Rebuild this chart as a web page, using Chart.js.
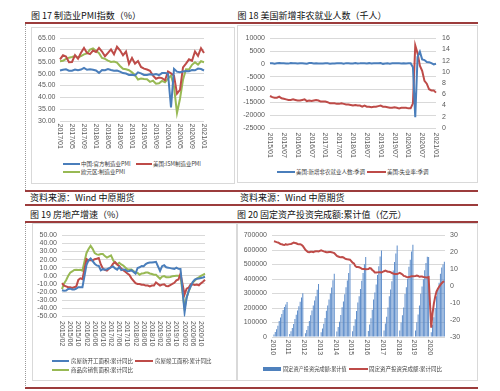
<!DOCTYPE html>
<html><head><meta charset="utf-8">
<script src="https://cdn.jsdelivr.net/npm/chart.js@4.4.1/dist/chart.umd.min.js"></script>
<style>
html,body{margin:0;padding:0;background:#fff;}
#page{position:relative;width:500px;height:391px;overflow:hidden;font-family:"Noto Sans CJK SC","Noto Sans",sans-serif;}
.title{position:absolute;font-size:9px;line-height:9px;color:#111;white-space:nowrap;font-weight:normal;}
.rule{position:absolute;left:25px;width:453px;height:2px;background:#9c3c3c;}
.frame{position:absolute;border:1px solid #d9d9d9;box-sizing:border-box;}
.dots{position:absolute;left:25px;width:0;border-left:1px dotted #9a9a9a;}
.lg{position:absolute;font-size:5.5px;line-height:6px;color:#404040;white-space:nowrap;}
.sw{position:absolute;height:2px;}
canvas{position:absolute;}
</style></head>
<body><div id="page">
<div class="title" style="left:31px;top:10.5px;">图 17 制造业PMI指数（%）</div>
<div class="title" style="left:237.5px;top:10.5px;">图 18 美国新增非农就业人数（千人）</div>
<div class="rule" style="top:22px;"></div>
<div class="dots" style="top:24px;height:166px;"></div>
<div class="frame" style="left:31px;top:26.5px;width:204px;height:157px;"></div>
<div class="frame" style="left:237px;top:25px;width:241px;height:158px;"></div>
<div class="rule" style="top:190px;height:1.5px;"></div>
<div class="title" style="left:30px;top:192.5px;">资料来源：Wind 中原期货</div>
<div class="title" style="left:240px;top:192.5px;">资料来源：Wind 中原期货</div>
<div class="rule" style="top:204px;"></div>
<div class="title" style="left:30px;top:209.5px;">图 19 房地产增速（%）</div>
<div class="title" style="left:237px;top:209.5px;">图 20 固定资产投资完成额:累计值（亿元）</div>
<div class="rule" style="top:221px;"></div>
<div class="dots" style="top:223px;height:165px;"></div>
<div class="frame" style="left:31.5px;top:223px;width:205px;height:158px;"></div>
<div class="frame" style="left:237px;top:223px;width:241px;height:158px;"></div>
<div class="rule" style="top:387px;"></div>

<canvas id="c1" width="203" height="128" style="left:31px;top:28px;"></canvas>
<canvas id="c2" width="238" height="131" style="left:239px;top:28px;"></canvas>
<canvas id="c3" width="204" height="126" style="left:32px;top:226px;"></canvas>
<canvas id="c4" width="238" height="132" style="left:239px;top:226px;"></canvas>

<div class="sw" style="left:63px;top:163px;width:17px;background:#4a7ebb;"></div>
<div class="lg" style="left:81px;top:161px;">中国:官方制造业PMI</div>
<div class="sw" style="left:136px;top:163px;width:16px;background:#be4b48;"></div>
<div class="lg" style="left:153px;top:161px;">美国:ISM制造业PMI</div>
<div class="sw" style="left:63px;top:171px;width:17px;background:#98b954;"></div>
<div class="lg" style="left:81px;top:169px;">欧元区:制造业PMI</div>

<div class="sw" style="left:276.5px;top:171px;width:18.5px;background:#4a7ebb;"></div>
<div class="lg" style="left:296px;top:169px;">美国:新增非农就业人数:季调</div>
<div class="sw" style="left:367px;top:171px;width:18.5px;background:#be4b48;"></div>
<div class="lg" style="left:387px;top:169px;">美国:失业率:季调</div>

<div class="sw" style="left:52px;top:360px;width:17px;background:#4a7ebb;"></div>
<div class="lg" style="left:71px;top:358px;">房屋新开工面积:累计同比</div>
<div class="sw" style="left:135px;top:360px;width:18px;background:#be4b48;"></div>
<div class="lg" style="left:155px;top:358px;">房屋竣工面积:累计同比</div>
<div class="sw" style="left:52px;top:368.5px;width:17px;background:#98b954;"></div>
<div class="lg" style="left:71px;top:366.5px;">商品房销售面积:累计同比</div>

<div class="sw" style="left:263px;top:367px;width:18px;height:4px;background:#4f81bd;"></div>
<div class="lg" style="left:283px;top:366px;font-size:5.2px;">固定资产投资完成额:累计值</div>
<div class="sw" style="left:349px;top:368px;width:19px;background:#be4b48;"></div>
<div class="lg" style="left:369px;top:366px;">固定资产投资完成额:累计同比</div>
</div>
<script>
// ---------- categories ----------
function buildMonths(y, m, n) {
  const out = [];
  for (let i = 0; i < n; i++) {
    out.push(y + '/' + String(m).padStart(2, '0'));
    m++; if (m > 12) { m = 1; y++; }
  }
  return out;
}
const pmiMonths = buildMonths(2017, 1, 49);
const nfpMonths = buildMonths(2015, 1, 73);
const reMonths = buildMonths(2015, 2, 71);
const faiMonths = buildMonths(2010, 1, 132);

// ---------- tick labels ----------
const pmiTickLabels = ['2017/01','2017/05','2017/09','2018/01','2018/05','2018/09','2019/01','2019/05','2019/09','2020/01','2020/05','2020/09','2021/01'];
const nfpTickLabels = ['2015/01','2015/07','2016/01','2016/07','2017/01','2017/07','2018/01','2018/07','2019/01','2019/07','2020/01','2020/07','2021/01'];
const reTickLabels = ['2015/02','2015/06','2015/10','2016/02','2016/06','2016/10','2017/02','2017/06','2017/10','2018/02','2018/06','2018/10','2019/02','2019/06','2019/10','2020/02','2020/06','2020/10'];
const faiTickLabels = ['2010','2011','2012','2013','2014','2015','2016','2017','2018','2019','2020'];

// ---------- 图17 PMI ----------
const chinaPMI = [
  51.3,51.6,51.8,51.2,51.2,51.7,51.4,51.7,52.4,51.6,51.8,51.6,
  51.3,50.3,51.5,51.4,51.9,51.5,51.2,51.3,50.8,50.2,50.0,49.4,
  49.5,49.2,50.5,50.1,49.4,49.4,49.7,49.5,49.8,49.3,50.2,50.2,
  50.0,35.7,52.0,50.8,50.6,50.9,51.1,51.0,51.5,51.4,52.1,51.9,
  51.3];
const ismPMI = [
  56.0,57.7,57.2,54.8,54.9,57.8,56.3,58.8,60.8,58.7,58.2,59.7,
  59.1,60.8,59.3,57.3,58.7,60.2,58.1,61.3,59.8,57.7,59.3,54.1,
  56.6,54.2,55.3,52.8,52.1,51.7,51.2,49.1,47.8,48.3,48.1,47.2,
  50.9,50.1,49.1,41.5,43.1,52.6,54.2,56.0,55.4,59.3,57.5,60.7,
  58.7];
const euroPMI = [
  55.2,55.4,56.2,56.7,57.0,57.4,56.6,57.4,58.1,58.5,60.1,60.6,
  59.6,58.6,56.6,56.2,55.5,54.9,55.1,54.6,53.2,52.0,51.8,51.4,
  50.5,49.3,47.5,47.9,47.7,47.6,46.5,47.0,45.7,45.9,46.9,46.3,
  47.9,49.2,44.5,33.4,39.4,47.4,51.8,51.7,53.7,54.8,53.8,55.2,
  54.8];

// ---------- 图18 非农 / 失业率 ----------
const nfpChange = [
  190,271,70,251,344,206,254,157,100,321,252,239,
  126,237,225,153,43,297,365,167,240,124,178,155,
  259,195,73,175,155,239,190,221,18,271,216,175,
  176,324,182,196,270,235,173,282,108,277,196,227,
  312,1,147,210,85,194,194,207,208,185,261,184,
  214,251,-1373,-20787,2725,4781,1761,1493,711,654,264,-227,
  49];
const unemployment = [
  5.7,5.5,5.4,5.4,5.6,5.3,5.2,5.1,5.0,5.0,5.1,5.0,
  4.9,4.9,5.0,5.1,4.8,4.9,4.8,4.9,5.0,4.9,4.7,4.7,
  4.7,4.6,4.4,4.4,4.4,4.3,4.3,4.4,4.3,4.2,4.2,4.1,
  4.0,4.1,4.0,4.0,3.8,4.0,3.8,3.8,3.7,3.8,3.8,3.9,
  4.0,3.8,3.8,3.7,3.6,3.6,3.7,3.6,3.5,3.6,3.6,3.6,
  3.5,3.5,4.4,14.7,13.3,11.1,10.2,8.4,7.9,6.9,6.7,6.7,
  6.3];

// ---------- 图19 房地产 ----------
const reStarts = [
  -17.7,-18.4,-18.0,-16.1,-15.8,-16.8,-16.8,-15.7,-14.0,-14.0,-14.0,
  null,13.7,19.2,21.4,18.0,14.9,12.8,12.2,6.8,8.2,7.6,8.1,
  null,10.4,11.6,9.1,7.6,10.6,7.0,7.9,7.6,5.6,6.0,7.0,
  null,2.9,9.7,10.5,12.2,11.8,14.4,15.9,16.4,16.3,16.8,17.2,
  null,6.0,11.9,13.1,10.5,10.1,9.5,8.9,8.6,10.0,8.6,8.5,
  null,-44.9,-27.2,-18.4,-12.8,-7.6,-4.5,-3.6,-3.4,-2.6,-2.0,-1.2];
const reCompleted = [
  -9.0,-12.0,-13.0,-14.0,-14.0,-15.0,-14.0,-13.0,-5.0,-3.0,-4.0,
  null,20.5,19.0,19.5,19.0,20.5,21.0,22.0,14.0,9.0,7.5,6.5,
  null,11.0,15.0,17.0,14.0,12.0,9.0,7.0,5.0,3.0,1.0,-3.0,
  null,-9.0,-10.0,-10.0,-11.0,-11.0,-12.0,-12.0,-13.0,-12.0,-12.0,-8.0,
  null,-11.9,-10.8,-10.3,-12.4,-12.7,-11.3,-10.0,-8.6,-5.5,-4.5,2.6,
  null,-22.9,-15.8,-14.5,-10.3,-10.5,-11.3,-10.8,-11.6,-9.2,-7.3,-4.9];
const reSales = [
  -16.3,-9.2,-5.4,-0.2,3.9,5.4,7.2,7.5,7.2,7.4,6.5,
  null,28.2,33.1,37.0,33.2,27.9,26.4,26.0,26.9,26.8,24.3,22.5,
  null,25.1,19.5,15.7,14.3,16.1,14.0,12.7,10.3,8.2,7.9,7.7,
  null,4.1,3.6,1.3,2.9,3.3,4.2,4.0,2.9,2.2,1.4,1.3,
  null,-3.6,-0.9,-0.3,-1.6,-1.8,-1.3,-0.6,-0.1,0.1,0.2,-0.1,
  null,-39.9,-26.3,-19.3,-12.3,-8.4,-5.8,-3.3,-1.8,0.0,1.3,2.6];

// ---------- 图20 固定资产投资 ----------
const faiCumulative = [
  null,16600,33800,53100,77200,111000,135200,159300,185900,207600,224500,241400,
  null,20900,39500,61600,90000,124500,152900,182500,212300,242400,272200,301900,
  null,26600,48900,76200,110100,150700,183500,217100,251900,281800,326600,364800,
  null,32900,58400,91300,131300,181300,217900,258200,299700,341100,391300,436500,
  null,38000,68300,106000,152100,204400,245400,294700,342600,390200,442000,502000,
  null,39900,77500,121900,180000,237100,281200,331000,387400,442000,502000,551600,
  null,42000,85800,130000,188000,258400,307500,362300,426900,487600,556000,596500,
  null,45000,93800,139100,203000,280600,328000,383700,458500,517800,575100,631700,
  null,44800,100200,150400,203000,297300,343600,402000,483900,533400,590400,635600,
  null,44800,101900,155700,217600,299100,348000,397800,461200,510900,553500,551500,
  null,33300,84100,136800,199200,281600,329200,374400,436500,479300,499700,518900];
const faiYoY = [
  null,26.6,26.4,26.1,25.9,25.5,24.9,24.8,24.5,24.4,24.9,24.5,
  null,24.9,25.0,25.4,25.8,25.6,25.4,25.0,24.9,24.9,24.5,23.8,
  null,21.5,20.9,20.2,20.1,20.4,20.4,20.2,20.5,20.7,20.7,20.6,
  null,21.2,20.9,20.6,20.4,20.1,20.1,20.3,20.2,20.1,19.9,19.6,
  null,17.9,17.6,17.3,17.2,17.3,17.0,16.5,16.1,15.9,15.8,15.7,
  null,13.9,13.5,12.0,11.4,11.4,11.2,10.9,10.3,10.2,10.2,10.0,
  null,10.2,10.7,10.5,9.6,9.0,8.1,8.1,8.2,8.3,8.3,8.1,
  null,8.9,9.2,8.9,8.6,8.6,8.3,7.8,7.5,7.3,7.2,7.2,
  null,7.9,7.5,7.0,6.1,6.0,5.5,5.3,5.4,5.7,5.9,5.9,
  null,6.1,6.3,6.1,5.6,5.8,5.7,5.5,5.4,5.2,5.2,5.4,
  null,-24.5,-16.1,-10.3,-6.3,-3.1,-1.6,-0.3,0.8,1.8,2.6,2.9];

// ---------- styling ----------
const BLUE = '#4a7ebb', RED = '#be4b48', GREEN = '#98b954', BAR = '#5b8bc9';
const GRID = '#d9d9d9', TICK = '#595959';
const TICKFONT = { family: '"Liberation Sans", Arial, sans-serif', size: 7 };

function makeXLabels(ticks, suffix, gap) {
  return {
    id: 'xLabels',
    afterDraw(chart) {
      const sc = chart.scales.x, ctx = chart.ctx, cats = chart.data.labels;
      ctx.save();
      ctx.font = '7px "Liberation Sans", Arial, sans-serif';
      ctx.fillStyle = TICK;
      ctx.textAlign = 'left';
      ctx.textBaseline = 'middle';
      ticks.forEach(t => {
        const idx = cats.indexOf(t + suffix);
        if (idx < 0) return;
        const x = sc.getPixelForValue(idx);
        ctx.save();
        ctx.translate(x, chart.chartArea.bottom + gap);
        ctx.rotate(Math.PI / 2);
        ctx.fillText(t, 0, 0);
        ctx.restore();
      });
      ctx.restore();
    }
  };
}
function line(data, color, axis) {
  return { type: 'line', data, borderColor: color, backgroundColor: color, borderWidth: 2,
    pointRadius: 0, tension: 0, spanGaps: true, yAxisID: axis || 'y', order: 0 };
}
function xScale(h, offset) {
  return { type: 'category', offset: !!offset, grid: { display: false }, border: { display: false },
    ticks: { display: false }, afterFit: s => { s.height = h; } };
}
function yScale(w, min, max, step, pad, fmt, pos, grid) {
  return { type: 'linear', position: pos || 'left', min, max,
    grid: { display: grid !== false, color: GRID, drawTicks: false, lineWidth: 1 },
    border: { display: false },
    ticks: { stepSize: step, padding: pad, color: TICK, font: TICKFONT, callback: fmt,
      autoSkip: false, maxTicksLimit: 20 },
    afterFit: s => { s.width = w; } };
}
const base = {
  responsive: false, animation: false, events: [],
  plugins: { legend: { display: false }, tooltip: { enabled: false } }
};
const fix2 = v => Number(v).toFixed(2);
const plain = v => String(v);

// 图17
new Chart(document.getElementById('c1'), {
  type: 'line',
  data: { labels: pmiMonths, datasets: [line(chinaPMI, BLUE), line(ismPMI, RED), line(euroPMI, GREEN)] },
  options: Object.assign({}, base, {
    layout: { padding: { left: 0, top: 10, right: 30, bottom: 0 } },
    scales: { x: xScale(35), y: yScale(29, 30, 65, 5, 4.5, fix2) }
  }),
  plugins: [makeXLabels(pmiTickLabels, '', 2.5)]
});

// 图18
new Chart(document.getElementById('c2'), {
  type: 'line',
  data: { labels: nfpMonths, datasets: [line(nfpChange, BLUE, 'y'), line(unemployment, RED, 'y1')] },
  options: Object.assign({}, base, {
    layout: { padding: { left: 0, top: 7, right: 0, bottom: 0 } },
    scales: {
      x: xScale(31),
      y: yScale(31, -25000, 10000, 5000, 5, plain),
      y1: yScale(41, 0, 16, 2, 6, plain, 'right', false)
    }
  }),
  plugins: [makeXLabels(nfpTickLabels, '', 4.5)]
});

// 图19
new Chart(document.getElementById('c3'), {
  type: 'line',
  data: { labels: reMonths, datasets: [line(reStarts, BLUE), line(reCompleted, RED), line(reSales, GREEN)] },
  options: Object.assign({}, base, {
    layout: { padding: { left: 0, top: 8, right: 31, bottom: 0 } },
    scales: { x: xScale(35.5), y: yScale(30, -50, 50, 10, 5, fix2) }
  }),
  plugins: [makeXLabels(reTickLabels, '', 4.5)]
});

// 图20
new Chart(document.getElementById('c4'), {
  type: 'bar',
  data: { labels: faiMonths, datasets: [
    { type: 'bar', data: faiCumulative, backgroundColor: BAR, borderWidth: 0,
      categoryPercentage: 1, barPercentage: 0.75, yAxisID: 'y', order: 1 },
    line(faiYoY, RED, 'y1')
  ] },
  options: Object.assign({}, base, {
    layout: { padding: { left: 0, top: 9.5, right: 0, bottom: 0 } },
    scales: {
      x: xScale(21, true),
      y: yScale(33, 0, 700000, 100000, 5, plain),
      y1: yScale(32, -30, 30, 10, 5, plain, 'right', false)
    }
  }),
  plugins: [makeXLabels(faiTickLabels, '/01', 2.5)]
});
</script>
</body></html>
